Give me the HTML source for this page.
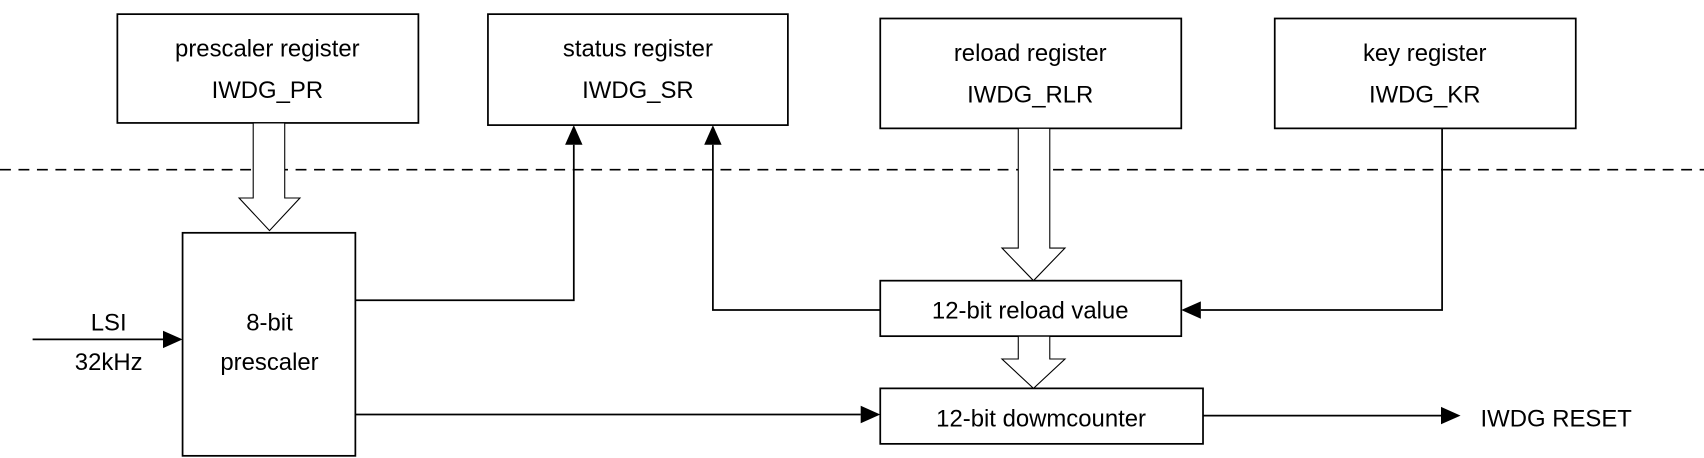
<!DOCTYPE html>
<html><head><meta charset="utf-8"><style>
html,body{margin:0;padding:0;background:#fff;width:1704px;height:458px;overflow:hidden}
svg text{font-family:"Liberation Sans",sans-serif;font-size:22px;fill:#000;text-anchor:middle}
</style></head><body>
<svg width="1704" height="458" viewBox="0 0 1568 421" preserveAspectRatio="none" xmlns="http://www.w3.org/2000/svg">
<g fill="none" stroke="#000" stroke-width="1.6">
<rect x="108" y="13" width="277" height="100"/>
<rect x="449" y="13" width="276" height="102"/>
<rect x="810" y="17" width="277" height="101"/>
<rect x="1173" y="17" width="277" height="101"/>
<rect x="168" y="214" width="159" height="205"/>
<rect x="810" y="258" width="277" height="51"/>
<rect x="810" y="357" width="297" height="51"/>
<line x1="0" y1="156" x2="1568" y2="156" stroke-dasharray="10,7" stroke-width="1.5"/>
<line x1="30" y1="312" x2="150" y2="312"/>
<polyline points="327,276 528,276 528,133"/>
<polyline points="810,285 656,285 656,133"/>
<polyline points="1327,118 1327,285 1105,285"/>
<line x1="327" y1="381" x2="792" y2="381"/>
<line x1="1107" y1="382" x2="1326" y2="382"/>
</g>
<g fill="#fff" stroke="#000" stroke-width="1">
<polygon points="233,113 262,113 262,182 276,182 248,212 220,182 233,182"/>
<polygon points="937,118 966,118 966,228 980,228 951,258 922,228 937,228"/>
<polygon points="937,309 966,309 966,330 980,330 951,357 922,330 937,330"/>
</g>
<g fill="#000">
<polygon points="150,304 168,312 150,320"/>
<polygon points="528,115 520,133 536,133"/>
<polygon points="656,115 648,133 664,133"/>
<polygon points="1087,285 1105,277 1105,293"/>
<polygon points="792,373 810,381 792,389"/>
<polygon points="1326,374 1344,382 1326,390"/>
</g>
<text x="246" y="52">prescaler register</text>
<text x="246" y="90">IWDG_PR</text>
<text x="587" y="52">status register</text>
<text x="587" y="90">IWDG_SR</text>
<text x="948" y="56">reload register</text>
<text x="948" y="94">IWDG_RLR</text>
<text x="1311" y="56">key register</text>
<text x="1311" y="94">IWDG_KR</text>
<text x="100" y="304">LSI</text>
<text x="100" y="340">32kHz</text>
<text x="248" y="304">8-bit</text>
<text x="248" y="340">prescaler</text>
<text x="948" y="293">12-bit reload value</text>
<text x="958" y="392">12-bit dowmcounter</text>
<text x="1432" y="392">IWDG RESET</text>
</svg>
</body></html>
